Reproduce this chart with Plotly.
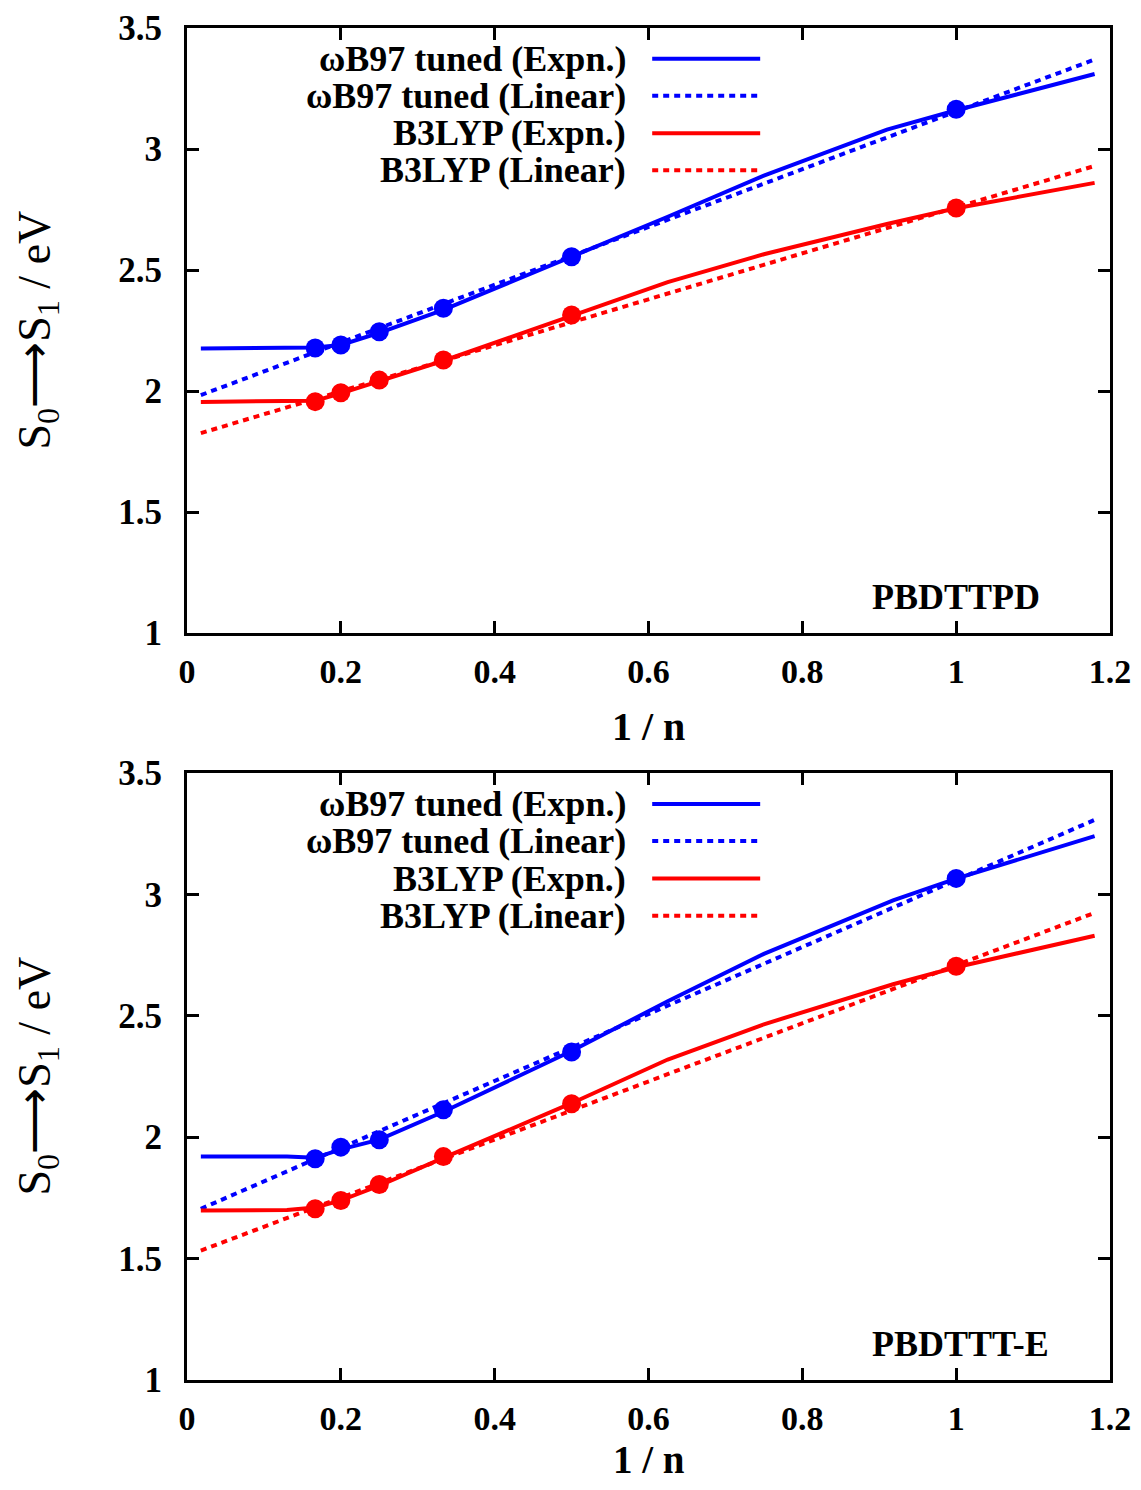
import plotly.graph_objects as go

# ---------------- data ----------------
n_inv_pts = [1/6, 0.2, 0.25, 1/3, 0.5, 1.0]

# Panel 1: PBDTTPD
p1_wb97_pts = [2.178, 2.19, 2.245, 2.342, 2.555, 3.164]
p1_b3lyp_pts = [1.956, 1.993, 2.045, 2.128, 2.314, 2.756]
p1_exp_x = [0.018, 0.12, 1/6, 0.2, 0.25, 1/3, 0.5, 0.625, 0.75, 0.91, 1.0, 1.18]
p1_wb97_exp = [2.176, 2.177, 2.18, 2.19, 2.24, 2.335, 2.555, 2.72, 2.89, 3.08, 3.16, 3.31]
p1_b3lyp_exp = [1.955, 1.956, 1.96, 1.99, 2.04, 2.125, 2.31, 2.45, 2.565, 2.69, 2.755, 2.86]
lin_x = [0.018, 1.18]
p1_wb97_lin = [1.983, 3.37]
p1_b3lyp_lin = [1.826, 2.93]

# Panel 2: PBDTTT-E
p2_wb97_pts = [1.911, 1.959, 1.989, 2.113, 2.351, 3.066]
p2_b3lyp_pts = [1.705, 1.739, 1.805, 1.92, 2.138, 2.704]
p2_exp_x = [0.018, 0.13, 1/6, 0.2, 0.25, 1/3, 0.5, 0.625, 0.75, 0.918, 1.0, 1.18]
p2_wb97_exp = [1.92, 1.92, 1.915, 1.95, 1.99, 2.105, 2.355, 2.56, 2.755, 2.975, 3.065, 3.24]
p2_b3lyp_exp = [1.698, 1.70, 1.71, 1.74, 1.80, 1.915, 2.14, 2.32, 2.465, 2.63, 2.70, 2.83]
p2_wb97_lin = [1.705, 3.307]
p2_b3lyp_lin = [1.533, 2.924]

legend_labels = ["\u03c9B97 tuned (Expn.)", "\u03c9B97 tuned (Linear)",
                 "B3LYP (Expn.)", "B3LYP (Linear)"]
panel_names = ["PBDTTPD", "PBDTTT-E"]
x_ticks = [0, 0.2, 0.4, 0.6, 0.8, 1.0, 1.2]
x_tick_text = ["0", "0.2", "0.4", "0.6", "0.8", "1", "1.2"]
y_ticks = [1, 1.5, 2, 2.5, 3, 3.5]
y_tick_text = ["1", "1.5", "2", "2.5", "3", "3.5"]

BLUE = "#0000ff"
RED = "#ff0000"
FONT = "Liberation Serif"
DOT = "6px,5px"
LW = 4

fig = go.Figure()

panels = [
    ("x", "y", p1_exp_x, p1_wb97_exp, p1_b3lyp_exp, p1_wb97_lin, p1_b3lyp_lin, p1_wb97_pts, p1_b3lyp_pts),
    ("x2", "y2", p2_exp_x, p2_wb97_exp, p2_b3lyp_exp, p2_wb97_lin, p2_b3lyp_lin, p2_wb97_pts, p2_b3lyp_pts),
]

for xa, ya, ex, wexp, bexp, wlin, blin, wpts, bpts in panels:
    fig.add_trace(go.Scatter(x=lin_x, y=wlin, mode="lines", xaxis=xa, yaxis=ya,
                             line=dict(color=BLUE, width=LW, dash=DOT), showlegend=False))
    fig.add_trace(go.Scatter(x=lin_x, y=blin, mode="lines", xaxis=xa, yaxis=ya,
                             line=dict(color=RED, width=LW, dash=DOT), showlegend=False))
    fig.add_trace(go.Scatter(x=ex, y=wexp, mode="lines", xaxis=xa, yaxis=ya,
                             line=dict(color=BLUE, width=LW), showlegend=False))
    fig.add_trace(go.Scatter(x=ex, y=bexp, mode="lines", xaxis=xa, yaxis=ya,
                             line=dict(color=RED, width=LW), showlegend=False))
    fig.add_trace(go.Scatter(x=n_inv_pts, y=wpts, mode="markers", xaxis=xa, yaxis=ya,
                             marker=dict(color=BLUE, size=19), showlegend=False))
    fig.add_trace(go.Scatter(x=n_inv_pts, y=bpts, mode="markers", xaxis=xa, yaxis=ya,
                             marker=dict(color=RED, size=19), showlegend=False))

# page has an 8px body margin; size the figure to fit the window exactly
OFF = 8
W, H = 1141 - 2 * OFF, 1490 - 2 * OFF


def px(xp):
    return (xp - OFF) / W


def py(yp):
    return 1 - (yp - OFF) / H


xdom = [px(187), px(1110)]
ydom1 = [py(633), py(28)]
ydom2 = [py(1380), py(773)]

axis_common = dict(showline=True, linecolor="black", linewidth=3, mirror="allticks",
                   ticks="inside", ticklen=12, tickwidth=2.5, tickcolor="black",
                   showgrid=False, zeroline=False, automargin=False)
yfont = dict(family=FONT, size=35, color="black", weight="bold")
xfont = dict(family=FONT, size=34, color="black", weight="bold")

fig.update_layout(
    width=W, height=H,
    margin=dict(l=0, r=0, t=0, b=0, autoexpand=False),
    paper_bgcolor="white", plot_bgcolor="white",
    xaxis=dict(domain=xdom, anchor="y", range=[0, 1.2], tickvals=x_ticks, ticktext=x_tick_text,
               ticklabelstandoff=6, tickfont=xfont, **axis_common),
    yaxis=dict(domain=ydom1, anchor="x", range=[1, 3.5], tickvals=y_ticks, ticktext=y_tick_text,
               ticklabelstandoff=15, tickfont=yfont, **axis_common),
    xaxis2=dict(domain=xdom, anchor="y2", range=[0, 1.2], tickvals=x_ticks, ticktext=x_tick_text,
                ticklabelstandoff=6, tickfont=xfont, **axis_common),
    yaxis2=dict(domain=ydom2, anchor="x2", range=[1, 3.5], tickvals=y_ticks, ticktext=y_tick_text,
                ticklabelstandoff=15, tickfont=yfont, **axis_common),
)

legend_styles = [(BLUE, None), (BLUE, DOT), (RED, None), (RED, DOT)]
legend_rows = [0.949, 0.888, 0.826, 0.765]

annotations = []
shapes = []
for i, (xa, ya) in enumerate([("x", "y"), ("x2", "y2")]):
    for lab, (col, dash), ry in zip(legend_labels, legend_styles, legend_rows):
        annotations.append(dict(text="<b>" + lab + "</b>", xref=xa + " domain", yref=ya + " domain",
                                x=0.478, y=ry, xanchor="right", yanchor="middle", showarrow=False,
                                font=dict(family=FONT, size=36, color="black")))
        line = dict(color=col, width=LW)
        if dash:
            line["dash"] = dash
        shapes.append(dict(type="line", xref=xa + " domain", yref=ya + " domain",
                           x0=0.504, x1=0.621, y0=ry, y1=ry, line=line))
    annotations.append(dict(text="<b>" + panel_names[i] + "</b>", xref=xa + " domain", yref=ya + " domain",
                            x=0.74, y=0.06, xanchor="left", yanchor="middle", showarrow=False,
                            font=dict(family=FONT, size=36, color="black")))
    # axis titles
    top_px, bot_px = (28, 633) if i == 0 else (773, 1380)
    if i == 0:
        annotations.append(dict(text="<b>1 / n</b>", xref="paper", yref="paper",
                                x=(xdom[0] + xdom[1]) / 2, y=py(bot_px + 93), xanchor="center",
                                yanchor="middle", showarrow=False,
                                font=dict(family=FONT, size=40, color="black")))
    else:
        annotations.append(dict(text="<b>1 / n</b>", xref="paper", yref="paper",
                                x=(xdom[0] + xdom[1]) / 2, y=0, xanchor="center",
                                yanchor="bottom", showarrow=False, borderpad=0,
                                font=dict(family=FONT, size=39, color="black")))
    annotations.append(dict(text="S<sub>0</sub>\u27f6S<sub>1</sub> / eV", xref="paper", yref="paper",
                            x=px(37), y=py((top_px + bot_px) / 2), xanchor="center", yanchor="middle",
                            textangle=-90, showarrow=False,
                            font=dict(family=FONT, size=46, color="black")))

fig.update_layout(annotations=annotations, shapes=shapes)

fig.write_html("out.html")
